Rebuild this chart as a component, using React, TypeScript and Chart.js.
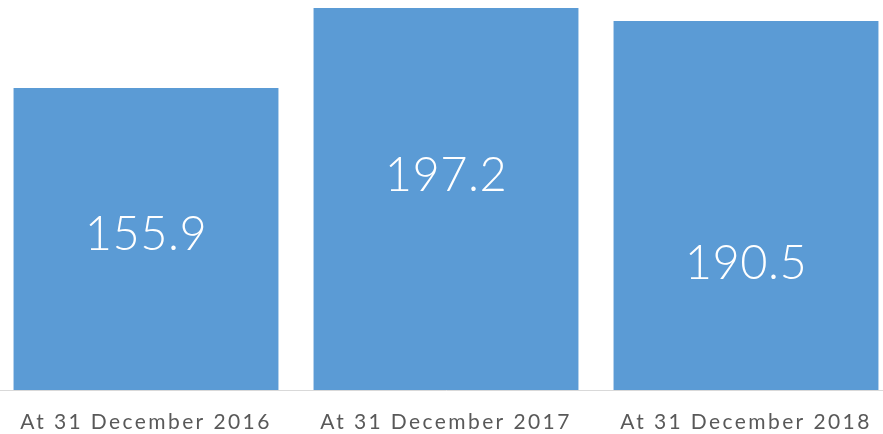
import React, { useEffect, useRef } from "react";
import { Chart, registerables } from "chart.js";

Chart.register(...registerables);

const categories = ["At 31 December 2016", "At 31 December 2017", "At 31 December 2018"];
const values = [155.9, 197.2, 190.5];
const valueLabels = ["155.9", "197.2", "190.5"];
// baseline (in data units) of each value label inside its bar
const labelAnchors = [72.3, 102.7, 57.3];

const BAR_COLOR = "#5b9bd5";
const FONT = "Lato, 'DejaVu Sans', sans-serif";

const spacingPlugin = {
  id: "spacing",
  beforeLayout(chart: any) {
    chart.ctx.letterSpacing = "2.4px";
  },
  beforeDraw(chart: any) {
    chart.ctx.letterSpacing = "2.4px";
  },
};

const valueLabelPlugin = {
  id: "valueLabels",
  afterDatasetsDraw(chart: any) {
    const ctx = chart.ctx;
    const meta = chart.getDatasetMeta(0);
    const yScale = chart.scales.y;
    ctx.save();
    ctx.letterSpacing = "0.5px";
    ctx.fillStyle = "#ffffff";
    ctx.font = `300 47px ${FONT}`;
    ctx.textAlign = "center";
    ctx.textBaseline = "alphabetic";
    meta.data.forEach((bar: any, i: number) => {
      const y = yScale.getPixelForValue(labelAnchors[i]);
      ctx.fillText(valueLabels[i], bar.x, y);
    });
    ctx.restore();
  },
};

export default function App() {
  const ref = useRef<HTMLCanvasElement>(null);
  useEffect(() => {
    if (!ref.current) return;
    const chart = new Chart(ref.current, {
      type: "bar",
      data: {
        labels: categories,
        datasets: [
          {
            data: values,
            backgroundColor: BAR_COLOR,
            barPercentage: 0.883,
            categoryPercentage: 1,
          },
        ],
      },
      options: {
        animation: false,
        responsive: false,
        maintainAspectRatio: false,
        layout: { padding: { top: 8, left: 0, right: 0, bottom: 0 } },
        plugins: { legend: { display: false }, tooltip: { enabled: false } },
        scales: {
          x: {
            grid: { display: false, drawTicks: false },
            border: { display: true, color: "#d9d9d9", width: 1 },
            ticks: {
              color: "#595959",
              font: { family: FONT, size: 21 },
              padding: 20,
              maxRotation: 0,
              autoSkip: false,
            },
            afterFit: (s: any) => {
              s.height = 44;
            },
          },
          y: {
            display: false,
            min: 0,
            max: 197.2,
          },
        },
      },
      plugins: [spacingPlugin, valueLabelPlugin],
    });
    return () => chart.destroy();
  }, []);
  return (
    <div style={{ position: "fixed", left: 0, top: 0, width: 883, height: 434, overflow: "hidden", background: "#fff" }}>
      <canvas ref={ref} width={900} height={434} style={{ position: "absolute", left: -4, top: 0, width: 900, height: 434 }} />
    </div>
  );
}
